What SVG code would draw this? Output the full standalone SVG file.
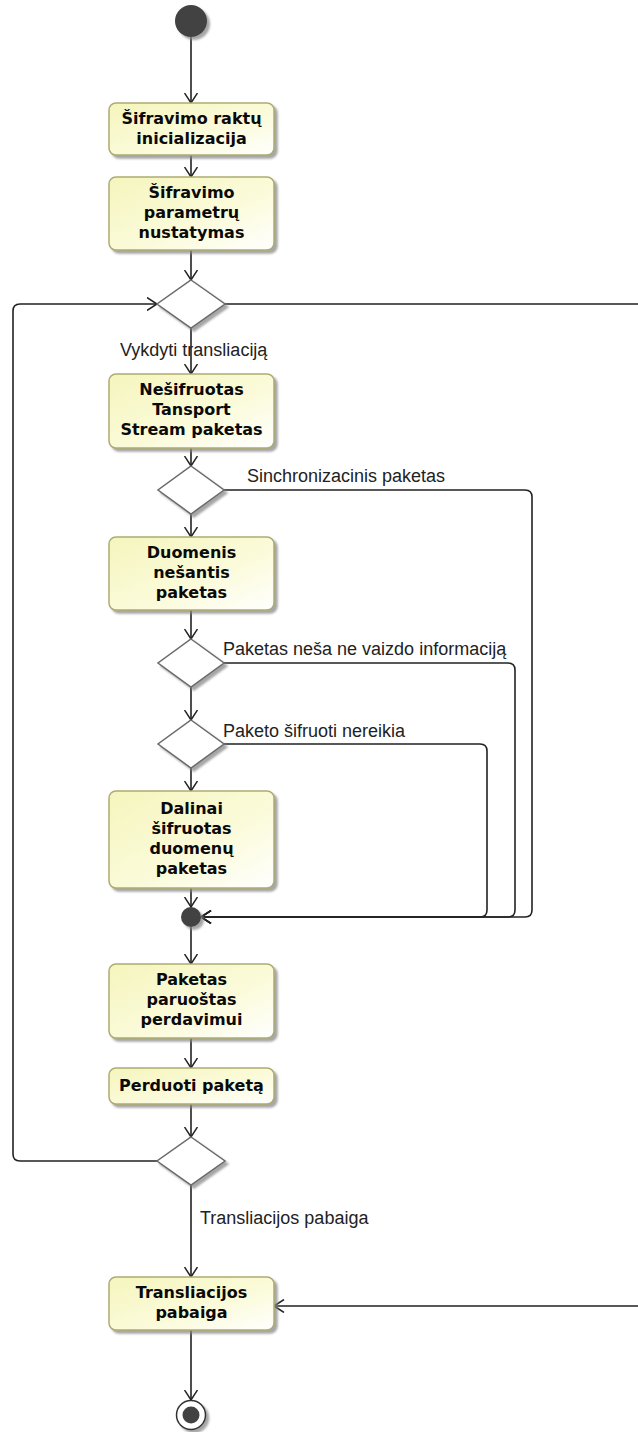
<svg xmlns="http://www.w3.org/2000/svg" width="638" height="1432" viewBox="0 0 638 1432">
  <style>
    .act { fill: url(#actFill); stroke: #acac70; stroke-width: 1.5; filter: url(#shadow); }
    .dec { fill: #ffffff; stroke: #6a6a6a; stroke-width: 1.5; filter: url(#shadow); }
    .dot { fill: #424242; filter: url(#shadow); }
    .name { font-family: "DejaVu Sans", sans-serif; font-weight: bold; font-size: 16px; fill: #0a0a0a; text-anchor: middle; }
    .guard { font-family: "Liberation Sans", Arial, sans-serif; font-size: 18px; fill: #222222; }
    .flow { fill: none; stroke: #222222; stroke-width: 1.6; marker-end: url(#open); }
  </style>
  <defs>
    <linearGradient id="actFill" x1="0" y1="0" x2="1" y2="1">
      <stop offset="0" stop-color="#f5f5bd"/>
      <stop offset="0.6" stop-color="#fbfbdc"/>
      <stop offset="1" stop-color="#ffffff"/>
    </linearGradient>
    <filter id="shadow" x="-20%" y="-20%" width="150%" height="150%">
      <feDropShadow dx="3" dy="3" stdDeviation="1.2" flood-color="#888888" flood-opacity="0.75"/>
    </filter>
    <marker id="open" viewBox="0 0 11 14" refX="10.5" refY="7" markerWidth="11" markerHeight="14" markerUnits="userSpaceOnUse" orient="auto">
      <path d="M0.5,0.5 L10.5,7 L0.5,13.5" fill="none" stroke="#222222" stroke-width="1.5"/>
    </marker>
  </defs>

  <rect width="638" height="1432" fill="#ffffff"/>

  <!-- control flows -->
  <g id="connectors">
    <path class="flow" d="M191,37 V103"/>
    <path class="flow" d="M191,155 V177"/>
    <path class="flow" d="M191,250 V280"/>
    <path class="flow" d="M191,328 V374"/>
    <path class="flow" d="M191,448 V466"/>
    <path class="flow" d="M191,514 V537"/>
    <path class="flow" d="M191,610 V639"/>
    <path class="flow" d="M191,687 V720"/>
    <path class="flow" d="M191,768 V791"/>
    <path class="flow" d="M191,888 V907"/>
    <path class="flow" d="M191,927 V964"/>
    <path class="flow" d="M191,1038 V1068"/>
    <path class="flow" d="M191,1104 V1137"/>
    <path class="flow" d="M191,1185 V1277"/>
    <path class="flow" d="M191,1330 V1400"/>
    <!-- branches joining the merge node -->
    <path class="flow" d="M224,490 H525 Q532,490 532,497 V910 Q532,917 525,917 H201"/>
    <path class="flow" d="M224,663 H508 Q515,663 515,670 V910 Q515,917 508,917 H201"/>
    <path class="flow" d="M224,744 H480 Q487,744 487,751 V910 Q487,917 480,917 H201"/>
    <!-- loop back to the main decision -->
    <path class="flow" d="M157,1161 H20 Q13,1161 13,1154 V311 Q13,304 20,304 H157"/>
    <!-- end of broadcast branch -->
    <path class="flow" d="M225,304 H660 V1306 H274"/>
  </g>

  <g id="labels">
    <text class="guard" x="120" y="356">Vykdyti transliaciją</text>
    <text class="guard" x="247" y="482">Sinchronizacinis paketas</text>
    <text class="guard" x="223" y="655">Paketas neša ne vaizdo informaciją</text>
    <text class="guard" x="223" y="737">Paketo šifruoti nereikia</text>
    <text class="guard" x="200" y="1224">Transliacijos pabaiga</text>
  </g>

  <g id="start">
    <circle class="dot" cx="191" cy="21" r="16"/>
  </g>

  <g id="keyInit">
    <rect class="act" x="109" y="103" width="165" height="52" rx="7"/>
    <text class="name" x="191.5" y="124">Šifravimo raktų</text>
    <text class="name" x="191.5" y="144">inicializacija</text>
  </g>

  <g id="paramSetup">
    <rect class="act" x="109" y="177" width="165" height="73" rx="7"/>
    <text class="name" x="191.5" y="198">Šifravimo</text>
    <text class="name" x="191.5" y="218">parametrų</text>
    <text class="name" x="191.5" y="238">nustatymas</text>
  </g>

  <g id="decisionBroadcast">
    <polygon class="dec" points="191,280 225,304 191,328 157,304"/>
  </g>

  <g id="plainPacket">
    <rect class="act" x="109" y="374" width="165" height="74" rx="7"/>
    <text class="name" x="191.5" y="395">Nešifruotas</text>
    <text class="name" x="191.5" y="415">Tansport</text>
    <text class="name" x="191.5" y="435">Stream paketas</text>
  </g>

  <g id="decisionSync">
    <polygon class="dec" points="191,466 224,490 191,514 158,490"/>
  </g>

  <g id="dataPacket">
    <rect class="act" x="109" y="537" width="165" height="73" rx="7"/>
    <text class="name" x="191.5" y="558">Duomenis</text>
    <text class="name" x="191.5" y="578">nešantis</text>
    <text class="name" x="191.5" y="598">paketas</text>
  </g>

  <g id="decisionVideo">
    <polygon class="dec" points="191,639 224,663 191,687 158,663"/>
  </g>

  <g id="decisionEncrypt">
    <polygon class="dec" points="191,720 224,744 191,768 158,744"/>
  </g>

  <g id="partialPacket">
    <rect class="act" x="109" y="791" width="165" height="97" rx="7"/>
    <text class="name" x="191.5" y="814">Dalinai</text>
    <text class="name" x="191.5" y="834">šifruotas</text>
    <text class="name" x="191.5" y="854">duomenų</text>
    <text class="name" x="191.5" y="874">paketas</text>
  </g>

  <g id="merge">
    <circle class="dot" cx="191" cy="917" r="10"/>
  </g>

  <g id="readyPacket">
    <rect class="act" x="109" y="964" width="165" height="74" rx="7"/>
    <text class="name" x="191.5" y="985">Paketas</text>
    <text class="name" x="191.5" y="1005">paruoštas</text>
    <text class="name" x="191.5" y="1025">perdavimui</text>
  </g>

  <g id="sendPacket">
    <rect class="act" x="109" y="1068" width="165" height="36" rx="7"/>
    <text class="name" x="191.5" y="1091">Perduoti paketą</text>
  </g>

  <g id="decisionLoop">
    <polygon class="dec" points="191,1137 225,1161 191,1185 157,1161"/>
  </g>

  <g id="broadcastEnd">
    <rect class="act" x="109" y="1277" width="165" height="53" rx="7"/>
    <text class="name" x="191.5" y="1298">Transliacijos</text>
    <text class="name" x="191.5" y="1318">pabaiga</text>
  </g>

  <g id="final">
    <circle cx="191" cy="1415" r="14.5" fill="#ffffff" stroke="#333333" stroke-width="1.5" filter="url(#shadow)"/>
    <circle cx="191" cy="1415" r="8.5" fill="#424242"/>
  </g>
</svg>
